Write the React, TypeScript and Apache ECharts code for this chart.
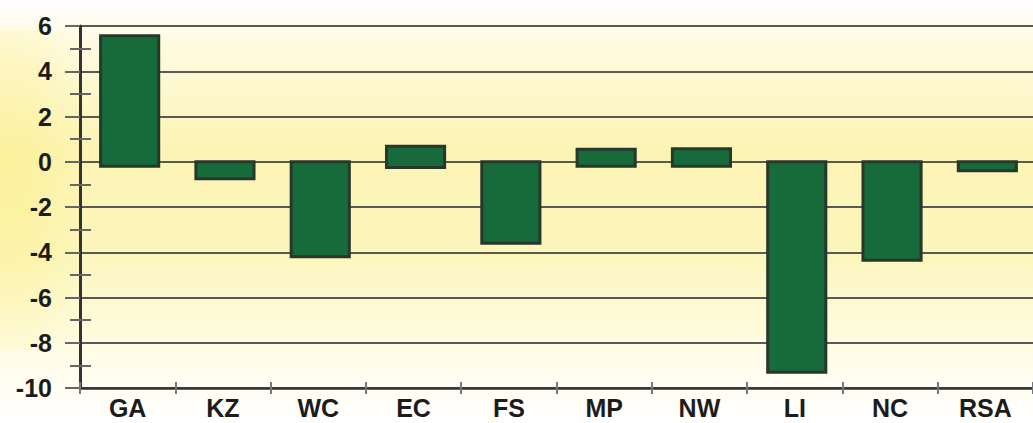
import React, { useEffect, useRef } from "react";
import * as echarts from "echarts";

const categories = ["GA", "KZ", "WC", "EC", "FS", "MP", "NW", "LI", "NC", "RSA"];
const barLow = [-0.2, -0.75, -4.2, -0.25, -3.6, -0.2, -0.2, -9.3, -4.35, -0.4];
const barHigh = [5.57, 0, 0, 0.68, 0, 0.55, 0.58, 0, 0, 0];
const yTicks = { min: -10, max: 6, interval: 2 };

export default function App() {
  const ref = useRef<HTMLDivElement>(null);
  useEffect(() => {
    if (!ref.current) return;
    const chart = echarts.init(ref.current, null, { renderer: "svg" });
    const labelFont = {
      fontFamily: "Liberation Sans, Arial, sans-serif",
      fontWeight: "bold" as const,
      color: "#1c1c1c",
    };
    chart.setOption({
      animation: false,
      backgroundColor: new echarts.graphic.LinearGradient(0, 0, 0, 1, [
        { offset: 0, color: "#ffffff" },
        { offset: 0.1, color: "#fffbe2" },
        { offset: 0.35, color: "#fcf4b4" },
        { offset: 0.6, color: "#fcf6bc" },
        { offset: 0.85, color: "#fffde9" },
        { offset: 1, color: "#ffffff" },
      ]),
      graphic: [
        {
          type: "rect",
          z: -10,
          silent: true,
          shape: { x: 0, y: 30, width: 100, height: 320 },
          style: {
            fill: new echarts.graphic.RadialGradient(0.1, 0.45, 0.8, [
              { offset: 0, color: "rgba(250,236,120,0.4)" },
              { offset: 1, color: "rgba(250,236,120,0)" },
            ]),
          },
        },
      ],
      grid: { left: 80, right: -15, top: 26, bottom: 35 },
      xAxis: [
        {
          type: "category",
          data: categories,
          position: "bottom",
          axisLine: { show: true, onZero: false, lineStyle: { color: "#333333", width: 2.5 } },
          axisTick: { show: true, length: 6, lineStyle: { color: "#777777", width: 2 } },
          axisLabel: { ...labelFont, fontSize: 25, margin: 7 },
          splitLine: { show: false },
        },
        {
          type: "category",
          data: categories,
          position: "bottom",
          axisLine: { show: false, onZero: false },
          axisTick: { show: true, inside: true, length: 6, lineStyle: { color: "#777777", width: 2 } },
          axisLabel: { show: false },
          splitLine: { show: false },
        },
      ],
      yAxis: [
        {
          type: "value",
          min: yTicks.min,
          max: yTicks.max,
          interval: yTicks.interval,
          axisLine: { show: true, lineStyle: { color: "#333333", width: 3 } },
          axisTick: { show: true, length: 15, lineStyle: { color: "#666666", width: 2 } },
          minorTick: { show: true, splitNumber: 2, length: 10, lineStyle: { color: "#666666", width: 2 } },
          axisLabel: { ...labelFont, fontSize: 25, margin: 28 },
          splitLine: { show: true, lineStyle: { color: "#5a5a52", width: 2 } },
        },
        {
          type: "value",
          min: yTicks.min,
          max: yTicks.max,
          interval: yTicks.interval,
          position: "left",
          axisLine: { show: false },
          axisTick: { show: false, inside: true },
          minorTick: { show: true, splitNumber: 2, length: 11, lineStyle: { color: "#666666", width: 2 } },
          axisLabel: { show: false },
          splitLine: { show: false },
        },
      ],
      series: [
        {
          type: "custom",
          xAxisIndex: 0,
          yAxisIndex: 0,
          encode: { x: 0, y: [1, 2] },
          data: categories.map((_, i) => [i, barLow[i], barHigh[i]]),
          renderItem: (params: any, api: any) => {
            const idx = api.value(0);
            const lo = api.value(1);
            const hi = api.value(2);
            const pTop = api.coord([idx, hi]);
            const pBot = api.coord([idx, lo]);
            const w = api.size([1, 0])[0] * 0.61;
            return {
              type: "rect",
              shape: { x: pTop[0] - w / 2 + 2, y: pTop[1], width: w, height: pBot[1] - pTop[1] },
              style: { fill: "#176b3b", stroke: "#27372c", lineWidth: 3 },
            };
          },
        },
      ],
    });
    return () => chart.dispose();
  }, []);
  return (
    <div
      ref={ref}
      style={{ position: "absolute", left: 0, top: 0, width: 1033, height: 423 }}
    />
  );
}
